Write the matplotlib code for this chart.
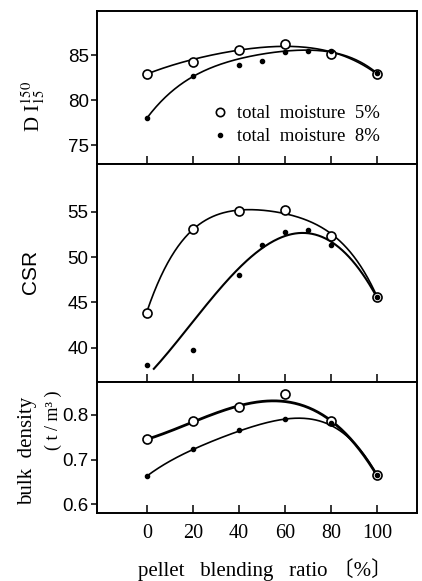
import numpy as np
import matplotlib
matplotlib.use('Agg')
import matplotlib.pyplot as plt
from matplotlib.lines import Line2D

plt.rcParams['mathtext.fontset'] = 'stix'

serif = ['Liberation Serif', 'Noto Sans CJK JP', 'DejaVu Serif']
sans = ['Liberation Sans', 'DejaVu Sans']

# pellet blending ratio (%)
ratio = [0, 20, 40, 60, 80, 100]
ratio_8 = [0, 20, 40, 50, 60, 70, 80, 100]

# DI 150/15
di_5 = [82.9, 84.2, 85.6, 86.2, 85.1, 82.9]
di_8 = [78.0, 82.7, 83.9, 84.3, 85.3, 85.5, 85.5, 83.0]
# hand drawn trend curves (knots)
di_5_cx = [0, 20, 40, 58, 75, 90, 100]
di_5_cy = [82.9, 84.5, 85.6, 85.9, 85.7, 84.4, 82.9]
di_8_cx = [0, 10, 20, 40, 60, 72, 80, 100]
di_8_cy = [78.0, 80.8, 82.6, 84.6, 85.4, 85.6, 85.3, 83.0]

# CSR
csr_5 = [43.8, 53.1, 55.1, 55.2, 52.3, 45.6]
csr_8_x = [0, 20, 40, 50, 60, 70, 80, 100]
csr_8 = [38.1, 39.7, 48.0, 51.4, 52.8, 53.0, 51.3, 45.6]
csr_5_cx = [0, 10, 20, 40, 55, 70, 80, 100]
csr_5_cy = [43.9, 50.0, 53.0, 55.0, 55.2, 54.2, 52.4, 45.7]
csr_8_cx = [3, 20, 40, 60, 68, 80, 100]
csr_8_cy = [37.6, 43.1, 48.4, 52.5, 53.0, 51.4, 45.6]

# bulk density (t/m3)
bd_5 = [0.745, 0.787, 0.819, 0.846, 0.787, 0.666]
bd_8 = [0.664, 0.723, 0.766, 0.791, 0.782, 0.666]
bd_5_cx = [0, 20, 40, 55, 65, 80, 100]
bd_5_cy = [0.745, 0.786, 0.817, 0.833, 0.828, 0.785, 0.665]
bd_8_cx = [0, 20, 40, 60, 68, 80, 90, 100]
bd_8_cy = [0.663, 0.722, 0.765, 0.789, 0.792, 0.780, 0.735, 0.665]


def curve(ax, cx, cy, deg=4, lw=1.2):
    p = np.polyfit(cx, cy, deg)
    xs = np.linspace(cx[0], cx[-1], 200)
    ax.plot(xs, np.polyval(p, xs), color='black', lw=lw, zorder=2)


def dots(ax, x5, y5, x8, y8):
    ax.plot(x5, y5, 'o', ms=6.5, mfc='white', mec='black', mew=1.2, zorder=4)
    ax.plot(x8, y8, 'o', ms=3, mfc='black', mec='black', zorder=5)


fig = plt.figure(figsize=(4.22, 5.81), dpi=100)
L, W = 97 / 422, 320 / 422
ax1 = fig.add_axes([L, 1 - 164 / 581, W, 153 / 581])
ax2 = fig.add_axes([L, 1 - 382 / 581, W, 218 / 581])
ax3 = fig.add_axes([L, 1 - 513 / 581, W, 131 / 581])

curve(ax1, di_5_cx, di_5_cy)
curve(ax1, di_8_cx, di_8_cy)
dots(ax1, ratio, di_5, ratio_8, di_8)
ax1.set_ylim(72.9, 89.9)
ax1.set_yticks([75, 80, 85])

curve(ax2, csr_5_cx, csr_5_cy)
curve(ax2, csr_8_cx, csr_8_cy, lw=1.5)
dots(ax2, ratio, csr_5, csr_8_x, csr_8)
ax2.set_ylim(36.2, 60.3)
ax2.set_yticks([40, 45, 50, 55])

curve(ax3, bd_5_cx, bd_5_cy, lw=2.0)
curve(ax3, bd_8_cx, bd_8_cy)
dots(ax3, ratio, bd_5, ratio, bd_8)
ax3.set_ylim(0.58, 0.874)
ax3.set_yticks([0.6, 0.7, 0.8])
ax3.set_yticklabels(['0.6', '0.7', '0.8'])

for ax in (ax1, ax2, ax3):
    ax.set_xlim(-21.7, 117.4)
    ax.set_xticks(ratio)
    ax.tick_params(axis='x', direction='in', length=6, width=1.1)
    ax.tick_params(axis='y', direction='out', length=4, width=1.1, pad=2)
    for s in ax.spines.values():
        s.set_linewidth(1.4)
    for t in ax.get_yticklabels():
        t.set_fontfamily(sans)
        t.set_fontsize(13.5)
for ax in (ax1, ax2):
    ax.set_xticklabels([])
ax3.set_xticklabels([str(v) for v in ratio], fontfamily=serif, fontsize=14.5)
ax3.tick_params(axis='x', pad=8)

h5 = Line2D([], [], ls='none', marker='o', ms=6, mfc='white', mec='black', mew=1.2)
h8 = Line2D([], [], ls='none', marker='o', ms=3, mfc='black', mec='black')
ax1.legend([h5, h8], ['total  moisture  5%', 'total  moisture  8%'],
           loc='upper left', bbox_to_anchor=(0.33, 0.445), frameon=False,
           borderpad=0, handlelength=0.9, handletextpad=0.45, labelspacing=0.3,
           prop={'family': serif, 'size': 13.5})

fig.text(0.078, 1 - 106 / 581, r'D I$^{150}_{15}$', rotation=90, ha='center',
         va='center', fontfamily=serif, fontsize=15)
fig.text(0.072, 1 - 272 / 581, 'CSR', rotation=90, ha='center', va='center',
         fontfamily=sans, fontsize=15)
fig.text(0.066, 1 - 451 / 581, 'bulk  density', rotation=90, ha='center',
         va='center', fontfamily=serif, fontsize=15)
fig.text(0.127, 1 - 420 / 581, '( t / m³ )', rotation=90, ha='center',
         va='center', fontfamily=serif, fontsize=13)
fig.text(265 / 422, 1 - 570 / 581, 'pellet   blending   ratio 〔%〕', ha='center',
         va='center', fontfamily=serif, fontsize=15)

fig.savefig('out.png', dpi=100)
